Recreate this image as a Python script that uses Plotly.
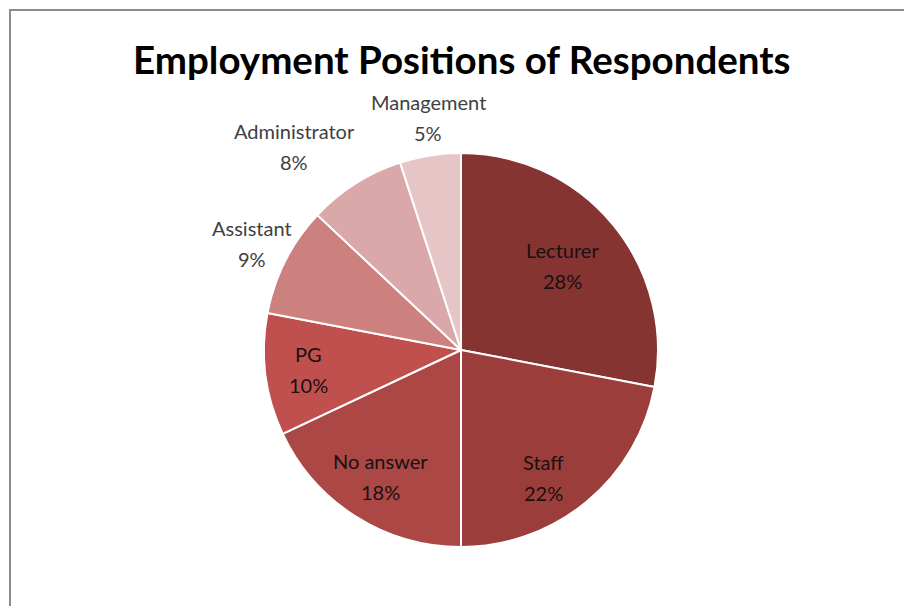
import math
import plotly.graph_objects as go

# Employment positions of survey respondents (percent)
positions = ["Lecturer", "Staff", "No answer", "PG", "Assistant", "Administrator", "Management"]
shares = [28, 22, 18, 10, 9, 8, 5]
colors = ["#853432", "#9b3d3b", "#ab4745", "#c0504d", "#cd817f", "#daa8a8", "#e6c5c6"]
# label placement: radius as a fraction of the pie radius, and a turn (degrees)
# away from the slice's mid angle
label_radius = [0.67, 0.77, 0.76, 0.78, 1.19, 1.335, 1.19]
label_turn = [0, 6.5, 0, 0, 0, -7, 1]
label_color = ["#1a1010", "#1a1010", "#1a1010", "#1a1010", "#404040", "#404040", "#404040"]

W, H = 904, 606
cx, cy, R = 461, 350, 197  # pie centre and radius in pixels
LINE_GAP = 15.5  # half the distance between the name line and the percent line

fig = go.Figure(go.Pie(
    labels=positions,
    values=shares,
    sort=False,
    direction="clockwise",
    rotation=0,
    marker=dict(colors=colors, line=dict(color="white", width=2)),
    textinfo="none",
    hoverinfo="label+percent",
    showlegend=False,
    domain=dict(x=[(cx - R) / W, (cx + R) / W], y=[1 - (cy + R) / H, 1 - (cy - R) / H]),
))

# category labels with percentages, placed along each slice's mid angle
total = sum(shares)
cum = 0
annotations = []
for name, v, f, turn, col in zip(positions, shares, label_radius, label_turn, label_color):
    mid = (cum + v / 2) / total * 2 * math.pi + math.radians(turn)
    cum += v
    px = cx + f * R * math.sin(mid)
    py = cy - f * R * math.cos(mid)
    for txt, dy in ((name, -LINE_GAP), (f"{round(v / total * 100)}%", LINE_GAP)):
        annotations.append(dict(
            x=px / W, y=1 - (py + dy) / H, xref="paper", yref="paper",
            xanchor="center", yanchor="middle",
            text=txt, showarrow=False,
            font=dict(family="Lato, Open Sans, sans-serif", size=20, color=col),
        ))

annotations.append(dict(
    x=462 / W, y=1 - 59 / H, xref="paper", yref="paper",
    xanchor="center", yanchor="middle",
    text="<b>Employment Positions of Respondents</b>",
    showarrow=False,
    font=dict(family="Lato, Open Sans, sans-serif", size=38.5, color="black"),
))

fig.update_layout(
    width=W, height=H,
    margin=dict(l=0, r=0, t=0, b=0),
    paper_bgcolor="white",
    plot_bgcolor="white",
    annotations=annotations,
    shapes=[dict(
        type="rect", xref="paper", yref="paper",
        x0=10 / W, y0=1 - 10 / H, x1=1.05, y1=-0.05,
        line=dict(color="#8c8c8c", width=2),
    )],
)

fig.write_html("out.html")
